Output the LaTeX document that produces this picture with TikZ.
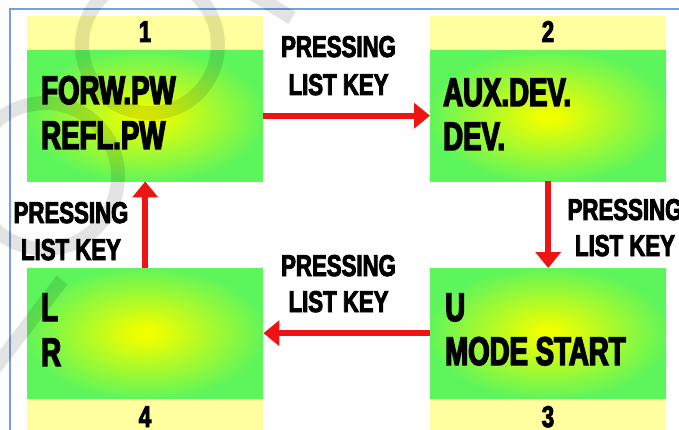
\documentclass[tikz,border=0pt]{standalone}
\usepackage{fontspec}
\usetikzlibrary{arrows.meta}
\newfontfamily\bxf[FakeStretch=0.69,FakeBold=3.5]{Liberation Sans}
\newfontfamily\lbf[FakeStretch=0.74,FakeBold=3]{Liberation Sans}
\definecolor{cgrn}{RGB}{92,245,92}
\definecolor{cyel}{RGB}{240,255,0}
\definecolor{chead}{RGB}{255,255,160}
\definecolor{cred}{RGB}{238,20,20}
\definecolor{cbord}{RGB}{120,160,220}
\pgfdeclareradialshading{boxshade}{\pgfpoint{0bp}{0bp}}{color(0bp)=(cyel); color(2bp)=(cyel); color(26bp)=(cgrn); color(50bp)=(cgrn)}
\begin{document}
\begin{tikzpicture}[x=1pt,y=-1pt,
  body/.style={rectangle, minimum width=236pt, minimum height=131pt, inner sep=0pt, anchor=north west, shading=boxshade},
  head/.style={rectangle, fill=chead, minimum width=236pt, minimum height=34pt, inner sep=0pt, anchor=north west},
  bxt/.style={inner sep=0pt, anchor=base west, font=\bxf\bfseries\fontsize{40}{44}\selectfont},
  lab/.style={inner sep=0pt, anchor=base, font=\lbf\bfseries\fontsize{30}{34}\selectfont},
  num/.style={inner sep=0pt, anchor=base, font=\lbf\bfseries\fontsize{30}{34}\selectfont},
  arr/.style={draw=cred, line width=6pt, -{Triangle[width=25pt,length=16pt]}},
  wm/.style={draw=black, opacity=0.11, line width=14pt}
]
\useasboundingbox (0,0) rectangle (679,430);
\clip (0,0) rectangle (679,430);
\fill[white] (0,0) rectangle (679,430);
% border
\draw[cbord, line width=1.2pt] (10,432) -- (10,9) -- (681,9);
% headers
\node[head] (h1) at (27,16) {};
\node[head] (h2) at (430,16) {};
\node[head] (h4) at (27,398) {};
\node[head] (h3) at (430,398) {};
% bodies
\node[body] (b1) at (27,50) {};
\node[body] (b2) at (430,50) {};
\node[body, minimum height=130pt] (b4) at (27,268) {};
\node[body, minimum height=130pt] (b3) at (430,268) {};
% numbers
\node[num] (n1) at (145,42) {1};
\node[num] (n2) at (548,42) {2};
\node[num] (n4) at (145,427) {4};
\node[num] (n3) at (548,427) {3};
% box texts
\node[bxt] (t1a) at (41,104) {FORW.PW};
\node[bxt] (t1b) at (41,149) {REFL.PW};
\node[bxt] (t2a) at (443,106) {AUX.DEV.};
\node[bxt] (t2b) at (443,150) {DEV.};
\node[bxt] (t4a) at (41,321) {L};
\node[bxt] (t4b) at (41,366) {R};
\node[bxt] (t3a) at (445,321) {U};
\node[bxt] (t3b) at (445,365) {MODE START};
% arrows
\draw[arr] (b1.east) -- (b2.west);
\draw[arr] (b2.south) -- (b3.north);
\draw[arr] (b3.west) -- (b4.east);
\draw[arr] (b4.north) -- (b1.south);
% labels
\node[lab] (l12a) at (338.5,57) {PRESSING};
\node[lab] (l12b) at (338.5,95) {LIST KEY};
\node[lab] (l23a) at (625,220) {PRESSING};
\node[lab] (l23b) at (625,256) {LIST KEY};
\node[lab] (l34a) at (338.5,276) {PRESSING};
\node[lab] (l34b) at (338.5,312) {LIST KEY};
\node[lab] (l41a) at (71,223) {PRESSING};
\node[lab] (l41b) at (71,260) {LIST KEY};
% watermark
\draw[wm] (150,45) circle[radius=68];
\draw[wm] (45,176) circle[radius=73];
\draw[wm] (-5,368) -- (62,280);
\draw[wm] (250,-8) -- (292,18);
\end{tikzpicture}
\end{document}
